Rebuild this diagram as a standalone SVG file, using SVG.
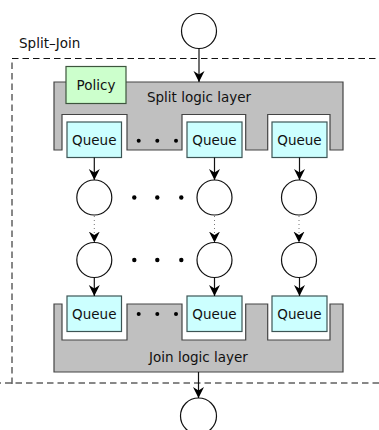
<svg xmlns="http://www.w3.org/2000/svg" width="379" height="430" viewBox="0 0 379 430">
  <style>
    text { font-family: "DejaVu Sans", "Liberation Sans", sans-serif; font-size: 13.5px; fill: #111; }
    .mid { text-anchor: middle; }
    .layer { fill: #c0c0c0; stroke: #444; stroke-width: 1.2; }
    .queue { fill: #ccffff; stroke: #3d5555; stroke-width: 1.2; }
    .policy { fill: #ccffcc; stroke: #3d553d; stroke-width: 1.2; }
    .node { fill: #fff; stroke: #111; stroke-width: 1.2; }
    .edge { stroke: #111; stroke-width: 1.2; fill: none; marker-end: url(#arrow); }
    .head { stroke: none; fill: none; marker-end: url(#arrow); }
    .dotted { stroke: #777; stroke-width: 1; stroke-dasharray: 1 3; fill: none; }
    .dot { fill: #000; }
  </style>
  <defs>
    <marker id="arrow" markerUnits="userSpaceOnUse" markerWidth="11" markerHeight="12" viewBox="0 0 11 12" refX="11" refY="6" orient="auto">
      <path d="M0,0.5 L11,6 L0,11.5 L3.5,6 Z" fill="#000"/>
    </marker>
  </defs>

  <!-- outer split-join boundary -->
  <g id="split-join">
    <path d="M12,384 V58.5 H379 M379,383 H0" fill="none" stroke="#111" stroke-width="1" stroke-dasharray="6.5 4"/>
    <text x="19" y="47.5">Split–Join</text>
  </g>

  <!-- split logic layer with queue notches -->
  <g id="split-layer">
    <path class="layer" d="M54,82 H343 V150 H330 V114.5 H267.7 V150 H245.7 V114.5 H182 V150 H127 V114.5 H62 V150 H54 Z"/>
    <text class="mid" x="199" y="102">Split logic layer</text>
  </g>
  <g id="policy">
    <rect class="policy" x="66" y="66.5" width="60" height="37"/>
    <text class="mid" x="96" y="89.5">Policy</text>
  </g>
  <g id="split-queue-1">
    <rect class="queue" x="67" y="122" width="54.5" height="35.5"/>
    <text class="mid" x="94.3" y="145">Queue</text>
  </g>
  <g id="split-queue-2">
    <rect class="queue" x="187" y="122" width="55" height="35.5"/>
    <text class="mid" x="214.5" y="145">Queue</text>
  </g>
  <g id="split-queue-3">
    <rect class="queue" x="272" y="122" width="55" height="35.5"/>
    <text class="mid" x="299.5" y="145">Queue</text>
  </g>

  <!-- join logic layer with queue notches -->
  <g id="join-layer">
    <path class="layer" d="M54,304 H62 V340 H127 V304 H182 V340 H245.7 V304 H267.7 V340 H330 V304 H343 V372 H54 Z"/>
    <text class="mid" x="198.5" y="362">Join logic layer</text>
  </g>
  <g id="join-queue-1">
    <rect class="queue" x="67" y="296" width="54.5" height="35.5"/>
    <text class="mid" x="94.3" y="319">Queue</text>
  </g>
  <g id="join-queue-2">
    <rect class="queue" x="187" y="296" width="55" height="35.5"/>
    <text class="mid" x="214.5" y="319">Queue</text>
  </g>
  <g id="join-queue-3">
    <rect class="queue" x="272" y="296" width="55" height="35.5"/>
    <text class="mid" x="299.5" y="319">Queue</text>
  </g>

  <!-- processing nodes -->
  <g id="source"><circle class="node" cx="199" cy="31" r="17.5"/></g>
  <g id="node-1a"><circle class="node" cx="94.3" cy="197.5" r="17.5"/></g>
  <g id="node-2a"><circle class="node" cx="214.5" cy="197.5" r="17.5"/></g>
  <g id="node-3a"><circle class="node" cx="299" cy="197.5" r="17.5"/></g>
  <g id="node-1b"><circle class="node" cx="94.3" cy="260" r="17.5"/></g>
  <g id="node-2b"><circle class="node" cx="214.5" cy="260" r="17.5"/></g>
  <g id="node-3b"><circle class="node" cx="299" cy="260" r="17.5"/></g>
  <g id="sink"><circle class="node" cx="198.5" cy="416" r="18"/></g>

  <!-- ellipsis dots -->
  <g id="ellipses">
    <circle class="dot" cx="138.7" cy="140.7" r="2"/>
    <circle class="dot" cx="157.3" cy="140.7" r="2"/>
    <circle class="dot" cx="176" cy="140.7" r="2"/>
    <circle class="dot" cx="134.3" cy="197.5" r="2.2"/>
    <circle class="dot" cx="157.3" cy="197.5" r="2.2"/>
    <circle class="dot" cx="181.3" cy="197.5" r="2.2"/>
    <circle class="dot" cx="134.3" cy="260" r="2.2"/>
    <circle class="dot" cx="157.3" cy="260" r="2.2"/>
    <circle class="dot" cx="181.3" cy="260" r="2.2"/>
    <circle class="dot" cx="138.7" cy="314" r="2"/>
    <circle class="dot" cx="157.3" cy="314" r="2"/>
    <circle class="dot" cx="176" cy="314" r="2"/>
  </g>

  <!-- connectors -->
  <g id="connectors">
    <line class="edge" x1="199" y1="48.5" x2="199" y2="82"/>
    <line class="edge" x1="94.3" y1="157.5" x2="94.3" y2="180"/>
    <line class="edge" x1="214.5" y1="157.5" x2="214.5" y2="180"/>
    <line class="edge" x1="299.5" y1="157.5" x2="299.5" y2="180"/>
    <line class="dotted" x1="94.3" y1="216" x2="94.3" y2="234"/>
    <line class="dotted" x1="214.5" y1="216" x2="214.5" y2="234"/>
    <line class="dotted" x1="299" y1="216" x2="299" y2="234"/>
    <line class="head" x1="94.3" y1="232" x2="94.3" y2="242.5"/>
    <line class="head" x1="214.5" y1="232" x2="214.5" y2="242.5"/>
    <line class="head" x1="299" y1="232" x2="299" y2="242.5"/>
    <line class="edge" x1="94.3" y1="277.5" x2="94.3" y2="296"/>
    <line class="edge" x1="214.5" y1="277.5" x2="214.5" y2="296"/>
    <line class="edge" x1="299.5" y1="277.5" x2="299.5" y2="296"/>
    <line class="edge" x1="198.5" y1="372" x2="198.5" y2="398"/>
  </g>
</svg>
